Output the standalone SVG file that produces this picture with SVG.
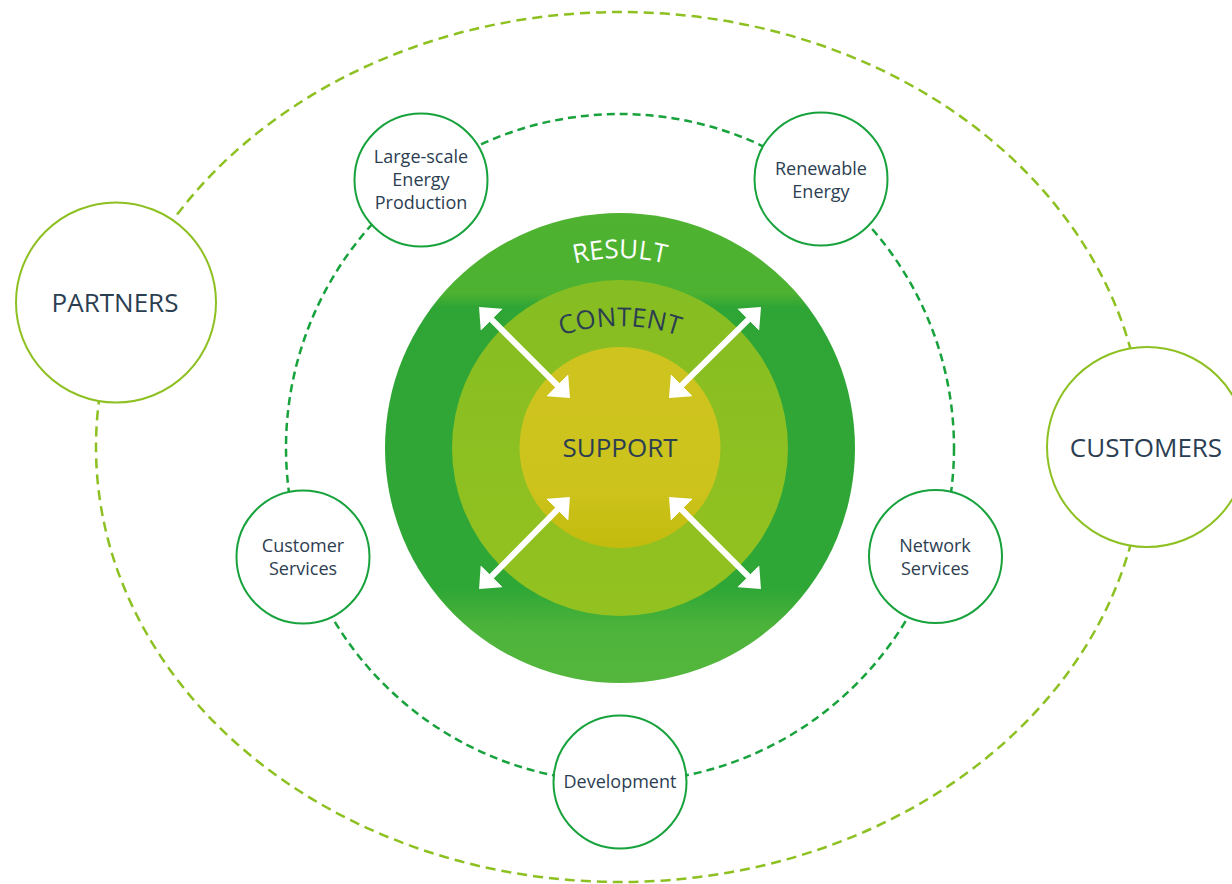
<svg xmlns="http://www.w3.org/2000/svg" width="1232" height="884" viewBox="0 0 1232 884">
  <style>
    .lbl { font-family: "Open Sans", "Noto Sans", "Liberation Sans", sans-serif; fill: #2c3e52; text-anchor: middle; }
    .big { font-size: 26px; }
    .small { font-size: 18px; }
    .node-s { fill: #ffffff; stroke: #17a23c; stroke-width: 2; }
    .node-l { fill: #ffffff; stroke: #8dc021; stroke-width: 2; }
    .orbit-in { fill: none; stroke: #17a23c; stroke-width: 2.5; stroke-dasharray: 8 5; }
    .orbit-out { fill: none; stroke: #8dc021; stroke-width: 2.5; stroke-dasharray: 10 6; }
    .arrow { stroke: #ffffff; stroke-width: 6; fill: none; marker-start: url(#head); marker-end: url(#head); }
  </style>
  <defs>
    <linearGradient id="gOuter" x1="0" y1="213" x2="0" y2="683" gradientUnits="userSpaceOnUse">
      <stop offset="0" stop-color="#4fb231"/>
      <stop offset="0.17" stop-color="#4db231"/>
      <stop offset="0.2" stop-color="#2fa535"/>
      <stop offset="0.8" stop-color="#2fa736"/>
      <stop offset="0.88" stop-color="#4cb33a"/>
      <stop offset="1" stop-color="#55b63d"/>
    </linearGradient>
    <linearGradient id="gMid" x1="0" y1="280" x2="0" y2="616" gradientUnits="userSpaceOnUse">
      <stop offset="0" stop-color="#86bd22"/>
      <stop offset="1" stop-color="#93c220"/>
    </linearGradient>
    <linearGradient id="gIn" x1="0" y1="347" x2="0" y2="548" gradientUnits="userSpaceOnUse">
      <stop offset="0" stop-color="#cfc41f"/>
      <stop offset="0.7" stop-color="#cdc31d"/>
      <stop offset="1" stop-color="#c3bb0c"/>
    </linearGradient>
    <marker id="head" markerUnits="userSpaceOnUse" viewBox="0 0 18 31" markerWidth="18" markerHeight="31" refX="8" refY="15.5" orient="auto-start-reverse">
      <path d="M0,0 L18,15.5 L0,31 Z" fill="#ffffff"/>
    </marker>
    <path id="arcResult" d="M 430,448 A 190,190 0 0 1 810,448"/>
    <path id="arcContent" d="M 440,506 A 180,180 0 0 1 800,506"/>
  </defs>

  <!-- orbits -->
  <g id="connectors">
    <ellipse class="orbit-out" cx="620" cy="447" rx="524" ry="435"/>
    <circle class="orbit-in" cx="620" cy="448" r="334"/>
  </g>

  <!-- central target -->
  <g id="core">
    <circle cx="620" cy="448" r="235" fill="url(#gOuter)"/>
    <circle cx="620" cy="448" r="168" fill="url(#gMid)"/>
    <circle cx="620" cy="447.5" r="100.5" fill="url(#gIn)"/>
    <text class="lbl big" style="fill:#ffffff"><textPath href="#arcResult" startOffset="50%">RESULT</textPath></text>
    <text class="lbl big"><textPath href="#arcContent" startOffset="50%">CONTENT</textPath></text>
    <text class="lbl big" x="620" y="457">SUPPORT</text>
  </g>

  <g id="arrows">
    <line class="arrow" x1="486.1" y1="314.1" x2="562.9" y2="390.9"/>
    <line class="arrow" x1="753.9" y1="314.1" x2="676.1" y2="390.9"/>
    <line class="arrow" x1="562.9" y1="504.1" x2="486.1" y2="581.9"/>
    <line class="arrow" x1="676.1" y1="504.1" x2="753.9" y2="581.9"/>
  </g>

  <g id="partners">
    <circle class="node-l" cx="116" cy="302.5" r="100"/>
    <text class="lbl big" x="115" y="312">PARTNERS</text>
  </g>
  <g id="customers">
    <circle class="node-l" cx="1147" cy="447" r="100"/>
    <text class="lbl big" x="1146" y="457">CUSTOMERS</text>
  </g>

  <g id="large-scale">
    <circle class="node-s" cx="421" cy="180" r="66.5"/>
    <text class="lbl small" x="421" y="163">Large-scale</text>
    <text class="lbl small" x="421" y="186">Energy</text>
    <text class="lbl small" x="421" y="209">Production</text>
  </g>
  <g id="renewable">
    <circle class="node-s" cx="821" cy="179" r="66.5"/>
    <text class="lbl small" x="821" y="175">Renewable</text>
    <text class="lbl small" x="821" y="198">Energy</text>
  </g>
  <g id="customer-services">
    <circle class="node-s" cx="303" cy="557" r="66.5"/>
    <text class="lbl small" x="303" y="552">Customer</text>
    <text class="lbl small" x="303" y="575">Services</text>
  </g>
  <g id="network-services">
    <circle class="node-s" cx="935.5" cy="556.5" r="66.5"/>
    <text class="lbl small" x="935" y="552">Network</text>
    <text class="lbl small" x="935" y="575">Services</text>
  </g>
  <g id="development">
    <circle class="node-s" cx="620" cy="782" r="66.5"/>
    <text class="lbl small" x="620" y="788">Development</text>
  </g>
</svg>
